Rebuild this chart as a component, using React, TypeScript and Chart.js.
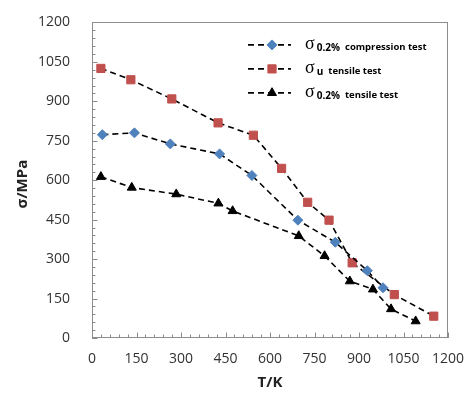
import React, { useEffect, useRef } from "react";
import { Chart, registerables } from "chart.js";
import { drawPoint } from "chart.js/helpers";

Chart.register(...registerables);

// σ0.2% compression test
const compT = [35, 143, 264, 430, 539, 694, 820, 928, 981];
const compS = [773, 780, 738, 700, 618, 448, 364, 256, 191];
// σu tensile test
const ultT = [30, 131, 269, 425, 544, 639, 727, 799, 877, 1019, 1152];
const ultS = [1025, 982, 909, 818, 771, 645, 516, 448, 286, 165, 83];
// σ0.2% tensile test
const tenT = [30, 134, 284, 426, 474, 697, 784, 869, 947, 1008, 1091];
const tenS = [613, 572, 547, 512, 483, 388, 312, 216, 185, 110, 64];

const legendSymbols = ["σ", "σ", "σ"];
const legendSubs = ["0.2%", "u", "0.2%"];
const legendTexts = ["compression test", "tensile test", "tensile test"];

const xTitle = "T/K";
const yTitle = "σ/MPa  ";
const axisMin = 0;
const axisMax = 1200;
const majorStep = 150;
const minorStep = 30;

const FONT = "'Open Sans', 'Liberation Sans', sans-serif";

const toPts = (xs: number[], ys: number[]) => xs.map((x, i) => ({ x, y: ys[i] }));

const framePlugin = {
  id: "frame",
  afterDatasetsDraw(chart: any) {
    const { ctx, chartArea: a, scales } = chart;
    const xs = scales.x;
    const ys = scales.y;
    ctx.save();
    ctx.strokeStyle = "#8c8c8c";
    ctx.lineWidth = 1;
    ctx.strokeRect(Math.round(a.left) + 0.5, Math.round(a.top) + 0.5, Math.round(a.right - a.left) - 1, Math.round(a.bottom - a.top) - 1);
    ctx.beginPath();
    for (let v = axisMin; v <= axisMax; v += minorStep) {
      const len = v % majorStep === 0 ? 5.5 : 3.5;
      const py = Math.round(ys.getPixelForValue(v)) + 0.5;
      ctx.moveTo(a.left, py);
      ctx.lineTo(a.left + len, py);
      const px = Math.round(xs.getPixelForValue(v)) + 0.5;
      ctx.moveTo(px, a.bottom);
      ctx.lineTo(px, a.bottom - len);
    }
    ctx.stroke();
    ctx.restore();

    // legend
    const lx0 = a.left + 156;
    const lx1 = a.left + 199;
    const mx = a.left + 180;
    const tx = a.left + 213;
    chart.data.datasets.forEach((ds: any, i: number) => {
      const rowY = a.top + 22.5 + i * 24;
      ctx.save();
      ctx.strokeStyle = ds.borderColor;
      ctx.lineWidth = ds.borderWidth;
      ctx.setLineDash(ds.borderDash);
      ctx.beginPath();
      ctx.moveTo(lx0, rowY);
      ctx.lineTo(lx1, rowY);
      ctx.stroke();
      ctx.setLineDash([]);
      ctx.fillStyle = ds.pointBackgroundColor;
      ctx.strokeStyle = ds.pointBorderColor;
      ctx.lineWidth = 1;
      drawPoint(ctx, { pointStyle: ds.pointStyle, radius: ds.pointRadius, rotation: 0, borderWidth: 1 }, mx, rowY);
      const base = rowY + 4;
      ctx.fillStyle = "#000";
      ctx.textBaseline = "alphabetic";
      ctx.textAlign = "left";
      ctx.font = "18px 'Liberation Serif', serif";
      ctx.fillText(legendSymbols[i], tx, base);
      let x = tx + ctx.measureText(legendSymbols[i]).width + 2;
      ctx.font = "bold 10px " + FONT;
      ctx.fillText(legendSubs[i], x, base + 2);
      x += ctx.measureText(legendSubs[i]).width + 5;
      ctx.font = "bold 9.5px " + FONT;
      ctx.fillText(legendTexts[i], x, base + 1.5);
      ctx.restore();
    });
  },
};

export default function App() {
  const ref = useRef<HTMLCanvasElement>(null);
  useEffect(() => {
    document.body.style.margin = "0";
    const dashed = { borderColor: "#000", borderWidth: 1.6, borderDash: [6, 4], showLine: true, fill: false, tension: 0 };
    const chart = new Chart(ref.current!, {
      type: "line",
      data: {
        datasets: [
          { ...dashed, label: "σ0.2% compression test", data: toPts(compT, compS), pointStyle: "rectRot", pointRadius: 5, pointBackgroundColor: "#4F81BD", pointBorderColor: "#4F81BD", pointBorderWidth: 1 },
          { ...dashed, label: "σu tensile test", data: toPts(ultT, ultS), pointStyle: "rect", pointRadius: 5.8, pointBackgroundColor: "#C0504D", pointBorderColor: "#C0504D", pointBorderWidth: 1 },
          { ...dashed, label: "σ0.2% tensile test", data: toPts(tenT, tenS), pointStyle: "triangle", pointRadius: 5.2, pointBackgroundColor: "#000", pointBorderColor: "#000", pointBorderWidth: 1 },
        ],
      } as any,
      options: {
        animation: false,
        responsive: false,
        layout: { padding: { top: 14, right: 23, left: 0, bottom: 0 } },
        plugins: { legend: { display: false }, tooltip: { enabled: false } },
        scales: {
          x: {
            type: "linear",
            min: axisMin,
            max: axisMax,
            grid: { display: false },
            border: { display: false },
            ticks: { stepSize: majorStep, padding: 5, color: "#333", font: { family: FONT, size: 14 }, maxRotation: 0, callback: (v: any) => String(v) },
            title: { display: true, text: xTitle, color: "#222", font: { family: FONT, size: 15, weight: "bold" }, padding: { top: 0, bottom: 10 } },
            afterFit: (s: any) => { s.height = 64; },
          },
          y: {
            type: "linear",
            min: axisMin,
            max: axisMax,
            grid: { display: false },
            border: { display: false },
            ticks: { stepSize: majorStep, padding: 14, color: "#333", font: { family: FONT, size: 14 }, callback: (v: any) => String(v) },
            title: { display: true, text: yTitle, color: "#222", font: { family: FONT, size: 15, weight: "bold" }, padding: { top: 14, bottom: 0 } },
            afterFit: (s: any) => { s.width = 92; },
          },
        },
      } as any,
      plugins: [framePlugin],
    });
    return () => chart.destroy();
  }, []);
  return (
    <div style={{ position: "absolute", left: 0, top: 0, width: 471, height: 402 }}>
      <canvas ref={ref} width={471} height={402} />
    </div>
  );
}
